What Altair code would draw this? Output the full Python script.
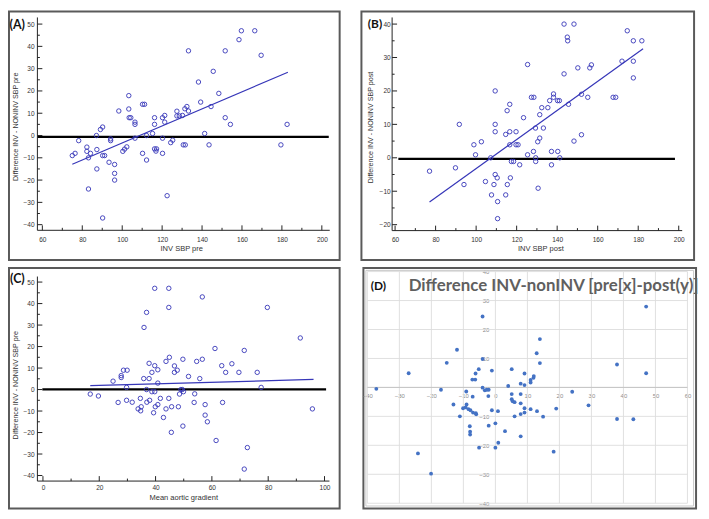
import altair as alt
import pandas as pd

# ---------------- data ----------------
# Panel A: INV SBP pre vs Difference INV - NONINV SBP pre
a_x = [75, 76.4, 78.2, 82.3, 82.3, 83.1, 84.1, 83.1, 87.1, 87.3,
       87.3, 89.1, 90.2, 90.2, 91.2, 90.2, 93.4, 94.2, 94.2, 96.2,
       96.2, 96.2, 98.3, 100.3, 101.2, 102.3, 103.3, 103.3, 103.5, 104.3,
       106.4, 106.4, 106.4, 110.2, 111.2, 110.2, 112.2, 112.2, 115.2, 116.2,
       116.2, 116.2, 116.9, 117.2, 120.2, 120.2, 120.2, 121.3, 121.3, 122.5,
       124.3, 125.3, 127.4, 127.4, 128.6, 130.2, 130.6, 131.6, 131.4, 132.4,
       133.2, 133.2, 138.2, 139.3, 141.3, 143.5, 144.5, 145.6, 148.4, 151.6,
       151.6, 154.2, 158.5, 159.7, 166.4, 169.6, 179.5, 182.6]
a_y = [-9, -8, -2.3, -5.2, -7.1, -10, -8, -24, 0, -6.3,
       -15, 2.7, 3.8, -9, -9, -37, -12, -1.5, -2.3, -13,
       -17, -20, 11, -7.1, -6.1, -5.1, 17.9, 11.9, 8, 8,
       6, 5, -1.2, 14, 14, -8, 0, -11, 0.9, 8,
       5, -6, -7, -6, 8, -1.2, -8, 9, 6, -27,
       -3.2, -2.1, 10.9, 8.8, 8.8, 9, -4.2, -4.2, 12, 13,
       11, 38, 24, 15, 0.9, -4.2, 13, 28.8, 18.9, 38,
       8, 5, 43, 47, 47, 36, -4.2, 5]
a_fit_x = [75, 183]
a_fit_y = [-12.9, 28.4]
a_zero = -0.6

# Panel B: INV SBP post vs Difference INV - NONINV SBP post
b_x = [77, 89.8, 91.7, 94, 98.9, 99.7, 102.6, 104.6, 107.2, 107.6,
       108.8, 109.4, 109.4, 109.4, 109.4, 110.4, 110.6, 110.6, 114.6, 115.3,
       115.4, 114.6, 116.6, 116.6, 116.6, 116.9, 117.4, 118.5, 119.7, 119.7,
       120.7, 121.5, 123.4, 125.4, 125.4, 127.3, 128.5, 128.3, 129.3, 129.4,
       129.4, 130.4, 130.6, 131.4, 131.4, 132.4, 133.2, 135.4, 136.3, 137.2,
       137.2, 138.2, 138.2, 140.2, 140.3, 141.1, 141.3, 145.6, 143.4, 143.4,
       145, 145.2, 148.3, 148.3, 150.2, 152, 152, 155.1, 156.1, 156.9,
       167.6, 168.9, 172, 174.6, 177.6, 177.6, 177.6, 181.8]
b_y = [-4, -3, 10, -8, 3.9, 0.9, 4.8, -7.1, 0, -11.1,
       -8, 10, 7.8, 20, -5, -6, -13.1, -18.2, 7, 14.1,
       -8, -11.1, 16, 7.8, 3.9, -6, -1.1, -1.1, 7.8, 3.9,
       3.9, -2.1, 12, 27.9, 0.9, 18.1, 18.1, 1.9, 8.9, 0,
       -1.1, 4.8, -9.1, 5.9, 12.9, 15, 8.9, 15, 17.1, 1.9,
       -2.1, 19.1, 18.1, 17.1, 1.9, 17.1, 0, 16, 25.1, 40,
       36.1, 35, 40, 5, 26.9, 6.9, 19, 18.1, 26.9, 27.8,
       18.1, 18.1, 28.9, 38, 35, 28.9, 23.9, 35]
b_fit_x = [77, 182.4]
b_fit_y = [-13.2, 32.6]
b_zero = -0.3

# Panel C: Mean aortic gradient vs Difference INV - NONINV SBP pre
c_x = [16.8, 19.7, 24.9, 26.7, 27.8, 27.8, 28.6, 29.9, 29.7, 29.7,
       31.7, 33.8, 34.6, 34.9, 34.7, 35.8, 35.9, 36.8, 36.8, 36.9,
       37.7, 37.7, 37.9, 38.7, 38.7, 39.7, 39.3, 39.7, 39.7, 39.9,
       40.8, 40.8, 40.8, 41.7, 43.7, 43.7, 42.8, 44.7, 44.7, 44.9,
       44.7, 45.7, 45.6, 46.7, 46.7, 47.7, 48.1, 48.5, 49, 49.5,
       49.9, 49.7, 49.7, 51.7, 53.9, 53.7, 54.6, 55.7, 56.6, 56.6,
       57.6, 57.6, 58.4, 61.1, 61.5, 63.5, 63.8, 64.9, 67.1, 69.6,
       71.5, 71.5, 72.6, 76.1, 77.5, 79.7, 91.4, 95.7]
c_y = [-2.1, -3, 3.9, -6, 5.6, 6.5, 9, 9, 1, -5,
       -5.9, -9, -4.1, -8, -9.9, 5.1, 28.9, 35.9, 0, -5.9,
       5.1, 12.2, -5, 8, -1, -1, -10.8, 47.1, 11.1, -8,
       9.2, 3, -7, -4.1, 13.1, -9, -13, 47.1, 38.2, 15,
       -4.1, -8, -19.9, 11, 8, 9, -8, -2.1, 0, 0,
       -1, 14.1, -17, 6.1, -2, -6, 13.1, 5.1, 14.1, 43.1,
       -7, -11.9, -15, 19.1, -23.7, 11.1, -6, 8, 12, 8,
       18.2, -37, -27, 8, 1, 38.2, 24, -9]
c_fit_x = [16.8, 96.1]
c_fit_y = [1.8, 4.7]
c_zero = 0.1

# Panel D: difference pre (x) vs difference post (y)
d_x = [-37.2, -27.1, -24.2, -20.1, -17, -15.2, -13.1, -12, -11.1, -10.1,
       -9.3, -9.1, -9, -8.4, -8, -7.9, -7.9, -7.8, -7.2, -7.1,
       -7, -6.3, -6.2, -6.1, -6, -5.2, -5.1, -4, -4, -4,
       -3.3, -2.7, -2.1, -2.2, -2.1, -1.1, -1.1, 0, 0, 0.8,
       0.9, 3, 4, 5.1, 5.1, 5.1, 5.4, 6, 6, 7.9,
       7.9, 7.9, 7.9, 7.9, 9.1, 9.1, 9.1, 9.1, 11, 11,
       11, 11.9, 12, 12.9, 13, 13.9, 13.9, 14.9, 18.2, 19,
       24, 29.1, 38, 38, 43.1, 47.1, 47.1]
d_y = [-0.5, 4.9, -22.8, -29.8, -0.8, 8.5, -5.9, 13, -10, -7.2,
       -6.9, -1.4, -5.9, -7.5, -13.4, -15.3, -16.3, -7.9, 2.7, -3.2,
       -8.7, 2.7, 4.8, -8.9, -9.3, 6.3, -20.8, 24.5, 9.8, -0.1,
       -1, -0.8, -0.8, -3, -13.2, 5.8, -7.9, -12.4, -20.8, -8.2,
       -19.1, -15.1, 0.5, 6.3, -2.3, -4.1, -4.8, -5.1, -10, 1.3,
       -2.3, -5.5, -9.2, -16.9, 4.8, 0.8, -7.2, -8.7, 2.6, 1.7,
       -7.5, 3.3, 3.9, 11.8, -8.2, 16.7, 8.4, -10.1, -22.2, -7.3,
       -1.5, -6.2, 7.9, -10.9, -11, 27.9, 4.9]

# tick values
a_xticks = [60, 80, 100, 120, 140, 160, 180, 200]
a_xminor = [70, 90, 110, 130, 150, 170, 190]
a_yticks = [-40, -30, -20, -10, 0, 10, 20, 30, 40, 50]
a_yminor = [-35, -25, -15, -5, 5, 15, 25, 35, 45]
b_xticks = [60, 80, 100, 120, 140, 160, 180, 200]
b_xminor = [70, 90, 110, 130, 150, 170, 190]
b_yticks = [-20, -10, 0, 10, 20, 30, 40]
b_yminor = [-15, -5, 5, 15, 25, 35]
c_xticks = [0, 20, 40, 60, 80, 100]
c_xminor = [10, 30, 50, 70, 90]
c_yticks = [-40, -30, -20, -10, 0, 10, 20, 30, 40, 50]
c_yminor = [-35, -25, -15, -5, 5, 15, 25, 35, 45]
d_xticks = [-40, -30, -20, -10, 0, 10, 20, 30, 40, 50, 60]
d_ygrid = [-40, -30, -20, -10, 0, 10, 20, 30, 40]
d_ylabels = [-40, -30, -20, -10, 10, 20, 30, 40]

# ---------------- styling ----------------
F = "Liberation Sans"
TAGF = "Lato"
INK = "#333333"
BLUE = "#3636b8"
one = pd.DataFrame({"k": [0]})


def medcalc(px, py, fx, fy, zero_y, xt, xm, yt, ym, g, tag, xtitle, ytitle):
    W, H = g["W"], g["H"]
    sx, sy = g["sx"], g["sy"]          # shift of the panel contents (px)

    def PX(v):
        return v - sx

    def PY(v):
        return v - sy

    xs = alt.Scale(domain=g["xdom"], range=[PX(r) for r in g["xrng"]], nice=False, zero=False)
    ys = alt.Scale(domain=g["ydom"], range=[PY(r) for r in g["yrng"]], nice=False, zero=False)
    ax, ay = PX(g["ax"]), PY(g["ay"])
    x_axis = alt.Axis(
        orient="bottom", values=xt, offset=ay - H, domain=False, ticks=False, tickSize=0,
        grid=False, labelPadding=g["xlabpad"], labelFont=F, labelFontSize=6.6, labelColor=INK,
        labelFlush=False, labelOverlap=False, minExtent=0,
        title=xtitle, titleFont=F, titleFontSize=7.6, titleFontWeight="normal", titleColor=INK,
        titleX=PX(g["xt"][0]), titleY=g["xt"][1], titleAlign="center", titleBaseline="middle",
    )
    y_axis = alt.Axis(
        orient="left", values=yt, offset=-ax, domain=False, ticks=False, tickSize=0,
        grid=False, labelPadding=g["ylabpad"], labelFont=F, labelFontSize=6.6, labelColor=INK,
        labelOverlap=False, minExtent=0,
        title=ytitle, titleFont=F, titleFontSize=7.2, titleFontWeight="normal", titleColor=INK,
        titleX=g["yt"][0], titleY=PY(g["yt"][1]), titleAngle=270, titleAlign="center",
        titleBaseline="middle",
    )

    def X(f):
        return alt.X(f, scale=xs, axis=x_axis)

    def Y(f):
        return alt.Y(f, scale=ys, axis=y_axis)

    layers = []
    # zero reference line
    layers.append(
        alt.Chart(pd.DataFrame({"y": [zero_y]})).mark_rule(color="#000000", strokeWidth=2.2)
        .encode(y=Y("y:Q"), x=alt.value(PX(g["zx0"])), x2=alt.value(PX(g["zx1"])))
    )
    # axis lines
    layers.append(
        alt.Chart(one).mark_rule(color="#222222", strokeWidth=1)
        .encode(x=alt.value(ax), y=alt.value(PY(g["atop"])), y2=alt.value(ay))
    )
    layers.append(
        alt.Chart(one).mark_rule(color="#222222", strokeWidth=1)
        .encode(x=alt.value(ax), x2=alt.value(PX(g["aright"])), y=alt.value(ay))
    )
    # ticks (inward)
    for vals, ln in ((xt, 5), (xm, 2.5)):
        layers.append(
            alt.Chart(pd.DataFrame({"x": vals})).mark_rule(color="#222222", strokeWidth=1)
            .encode(x=X("x:Q"), y=alt.value(ay - ln), y2=alt.value(ay))
        )
    for vals, ln in ((yt, 5), (ym, 2.5)):
        layers.append(
            alt.Chart(pd.DataFrame({"y": vals})).mark_rule(color="#222222", strokeWidth=1)
            .encode(y=Y("y:Q"), x=alt.value(ax), x2=alt.value(ax + ln))
        )
    # regression line
    layers.append(
        alt.Chart(pd.DataFrame({"x": fx, "y": fy})).mark_line(color=BLUE, strokeWidth=1.2)
        .encode(x=X("x:Q"), y=Y("y:Q"))
    )
    # scatter points
    layers.append(
        alt.Chart(pd.DataFrame({"x": px, "y": py}))
        .mark_point(shape="circle", filled=False, color=BLUE, size=20, strokeWidth=0.9, opacity=1)
        .encode(x=X("x:Q"), y=Y("y:Q"))
    )
    # panel tag
    layers.append(
        alt.Chart(one).mark_text(text=tag, font=TAGF, fontWeight="bold", fontSize=g["tagsize"],
                                 color="#111111", align="left", baseline="middle")
        .encode(x=alt.value(PX(g["tag"][0])), y=alt.value(PY(g["tag"][1])))
    )
    return alt.layer(*layers).properties(width=W, height=H)


gA = dict(W=334, H=251, sx=2, sy=2, xdom=[60, 200], xrng=[35.7, 318], ydom=[-40, 50],
          yrng=[217.3, 14.7], ax=30.7, ay=223, atop=8, aright=326, zx0=30.7, zx1=325,
          xlabpad=6.5, ylabpad=3.4, xt=(176, 18), yt=(-22, 118), tag=(2.5, 15.6), tagsize=12.5)
gB = dict(W=336, H=251, sx=1, sy=2, xdom=[60, 200], xrng=[35, 321.5], ydom=[-20, 40],
          yrng=[217.3, 14.7], ax=32, ay=223.3, atop=8, aright=325, zx0=38.3, zx1=317.7,
          xlabpad=6.5, ylabpad=2, xt=(181.7, 18), yt=(-22, 118.7), tag=(7.5, 14.7), tagsize=12)
gC = dict(W=334, H=243, sx=2, sy=0, xdom=[0, 100], xrng=[36.3, 320.7], ydom=[-40, 50],
          yrng=[209.7, 14.3], ax=30.7, ay=215.3, atop=8.7, aright=325.7, zx0=35.7, zx1=322.3,
          xlabpad=3.5, ylabpad=3.4, xt=(178, 16.7), yt=(-22, 118), tag=(3, 11), tagsize=12.5)

pA = medcalc(a_x, a_y, a_fit_x, a_fit_y, a_zero, a_xticks, a_xminor, a_yticks, a_yminor,
             gA, "(A)", "INV SBP pre", "Difference INV - NONINV SBP pre")
pB = medcalc(b_x, b_y, b_fit_x, b_fit_y, b_zero, b_xticks, b_xminor, b_yticks, b_yminor,
             gB, "(B)", "INV SBP post", "Difference INV - NONINV SBP post")
pC = medcalc(c_x, c_y, c_fit_x, c_fit_y, c_zero, c_xticks, c_xminor, c_yticks, c_yminor,
             gC, "(C)", "Mean aortic gradient", "Difference INV - NONINV SBP pre")

# ---------------- Panel D (spreadsheet style) ----------------
DW, DH = 336, 243
DSX = 1
dxs = alt.Scale(domain=[-40, 60], range=[5 - DSX, 328.3 - DSX], nice=False, zero=False)
dys = alt.Scale(domain=[-40, 40], range=[237.7, 3.7], nice=False, zero=False)
x0_px = 134.3 - DSX
y0_px = 120.7
GRID = "#dcdcdc"
DLAB = "#8c8c8c"
dx_axis = alt.Axis(
    orient="bottom", values=d_xticks, offset=y0_px - DH, domain=False, ticks=False,
    tickSize=0, grid=False, labelPadding=5, labelFont=F, labelFontSize=6,
    labelColor=DLAB, labelFlush=False, labelOverlap=False, minExtent=0, title=None)
dy_axis = alt.Axis(
    orient="left", values=d_ylabels, offset=-x0_px, domain=False, ticks=False,
    tickSize=0, grid=False, labelPadding=6.6, labelFont=F, labelFontSize=6,
    labelColor=DLAB, labelOverlap=False, minExtent=0, title=None)

d_layers = [
    alt.Chart(one).mark_rect(fill="#ffffff", fillOpacity=0, stroke="#c8c8c8", strokeWidth=1)
    .encode(x=alt.value(2.5), x2=alt.value(DW - 2.5), y=alt.value(2.5), y2=alt.value(DH - 2.5)),
    alt.Chart(pd.DataFrame({"x": d_xticks})).mark_rule(color=GRID, strokeWidth=0.9)
    .encode(x=alt.X("x:Q", scale=dxs, axis=dx_axis), y=alt.value(3.7), y2=alt.value(237.7)),
    alt.Chart(pd.DataFrame({"y": d_ygrid})).mark_rule(color=GRID, strokeWidth=0.9)
    .encode(y=alt.Y("y:Q", scale=dys, axis=dy_axis), x=alt.value(5 - DSX), x2=alt.value(328.3 - DSX)),
    alt.Chart(pd.DataFrame({"y": [0]})).mark_rule(color="#c4c4c4", strokeWidth=1)
    .encode(y=alt.Y("y:Q", scale=dys, axis=dy_axis), x=alt.value(5 - DSX), x2=alt.value(328.3 - DSX)),
    alt.Chart(pd.DataFrame({"x": d_x, "y": d_y}))
    .mark_circle(size=15, color="#4472c4", opacity=1)
    .encode(x=alt.X("x:Q", scale=dxs, axis=dx_axis), y=alt.Y("y:Q", scale=dys, axis=dy_axis)),
    alt.Chart(one).mark_text(text="Difference INV-nonINV [pre[x]-post(y)]", font=TAGF,
                             fontWeight="bold", fontSize=17, color="#5f5f5f",
                             align="left", baseline="middle")
    .encode(x=alt.value(46.7 - DSX), y=alt.value(18.7)),
    alt.Chart(one).mark_text(text="(D)", font=TAGF, fontWeight="bold", fontSize=12,
                             color="#111111", align="left", baseline="middle")
    .encode(x=alt.value(8.3 - DSX), y=alt.value(18.7)),
]
pD = alt.layer(*d_layers).properties(width=DW, height=DH)

top = alt.hconcat(pA, pB, spacing=20)
bottom = alt.hconcat(pC, pD, spacing=20)
chart = (
    alt.vconcat(top, bottom, spacing=6)
    .properties(padding=0)
    .configure_view(stroke="#5a5a5a", strokeWidth=2)
)

chart.save("out.html", embed_options={"renderer": "svg", "actions": False})
